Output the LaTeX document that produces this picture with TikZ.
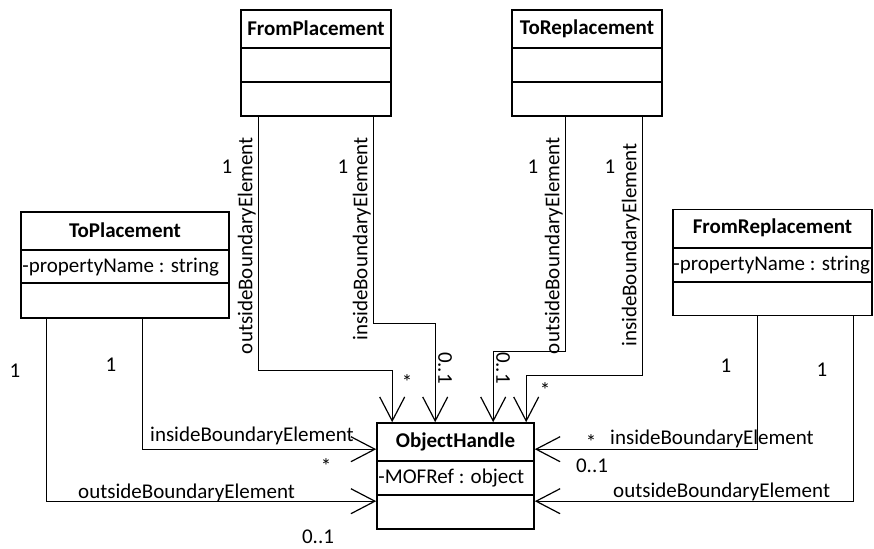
\documentclass[tikz,border=0pt]{standalone}
\usepackage{fontspec}
\setmainfont{Carlito}
\usetikzlibrary{arrows.meta}
\begin{document}
\begin{tikzpicture}[x=1pt,y=-1pt,
  font=\fontsize{21}{25}\selectfont,
  cls/.style={draw, line width=1.6pt, inner sep=0pt, minimum width=#1, minimum height=106pt},
  div/.style={line width=1.6pt},
  ttl/.style={inner sep=0pt, font=\fontsize{21}{25}\selectfont\bfseries},
  attr/.style={inner sep=0pt, anchor=west},
  assoc/.style={line width=1pt, -{Straight Barb[length=24pt,width=25pt,line width=1.2pt]}},
  lbl/.style={inner sep=0pt},
  vlbl/.style={inner sep=0pt, rotate=90, anchor=south east},
  mlt/.style={inner sep=0pt}]
\useasboundingbox (0,0) rectangle (874,548);

% FromPlacement
\node[cls=150pt] (fp) at (316,63) {};
\node[ttl] (fpt) at ([yshift=-19.5pt]fp.north) {FromPlacement};
\draw[div] ([yshift=-39pt]fp.north west) -- ([yshift=-39pt]fp.north east);
\draw[div] ([yshift=-73pt]fp.north west) -- ([yshift=-73pt]fp.north east);

% ToReplacement
\node[cls=150pt] (tr) at (587,63) {};
\node[ttl] (trt) at ([yshift=-19.5pt]tr.north) {ToReplacement};
\draw[div] ([yshift=-39pt]tr.north west) -- ([yshift=-39pt]tr.north east);
\draw[div] ([yshift=-73pt]tr.north west) -- ([yshift=-73pt]tr.north east);

% ToPlacement
\node[cls=208pt] (tp) at (125,265) {};
\node[ttl] (tpt) at ([yshift=-19.5pt]tp.north) {ToPlacement};
\draw[div] ([yshift=-39pt]tp.north west) -- ([yshift=-39pt]tp.north east);
\draw[div] ([yshift=-72pt]tp.north west) -- ([yshift=-72pt]tp.north east);
\node[attr] (tpa) at ([xshift=2pt,yshift=-55.5pt]tp.north west) {-propertyName : string};

% FromReplacement
\node[cls=199pt] (fr) at (772.5,262.5) {};
\node[ttl] (frt) at ([yshift=-19.5pt]fr.north) {FromReplacement};
\draw[div] ([yshift=-39pt]fr.north west) -- ([yshift=-39pt]fr.north east);
\draw[div] ([yshift=-73pt]fr.north west) -- ([yshift=-73pt]fr.north east);
\node[attr] (fra) at ([xshift=1pt,yshift=-56pt]fr.north west) {-propertyName : string};

% ObjectHandle
\node[cls=157pt] (oh) at (455.5,476) {};
\node[ttl] (oht) at ([yshift=-19.5pt]oh.north) {ObjectHandle};
\draw[div] ([yshift=-39pt]oh.north west) -- ([yshift=-39pt]oh.north east);
\draw[div] ([yshift=-73pt]oh.north west) -- ([yshift=-73pt]oh.north east);
\node[attr] (oha) at ([xshift=2pt,yshift=-56pt]oh.north west) {-MOFRef : object};

% connectors from top classes
\draw[assoc] ([xshift=18pt]fp.south west) -- ++(0,254) -| ([xshift=16pt]oh.north west);
\draw[assoc] ([xshift=133pt]fp.south west) -- ++(0,207) -| ([xshift=59pt]oh.north west);
\draw[assoc] ([xshift=54pt]tr.south west) -- ++(0,235) -| ([xshift=117pt]oh.north west);
\draw[assoc] ([xshift=131pt]tr.south west) -- ++(0,259) -| ([xshift=150pt]oh.north west);

% connectors from side classes
\draw[assoc] ([xshift=122pt]tp.south west) |- ([yshift=-27pt]oh.north west);
\draw[assoc] ([xshift=26pt]tp.south west) |- ([yshift=-79pt]oh.north west);
\draw[assoc] ([xshift=85pt]fr.south west) |- ([yshift=-27pt]oh.north east);
\draw[assoc] ([xshift=181pt]fr.south west) |- ([yshift=-79pt]oh.north east);

% vertical role labels
\node[vlbl] (l1) at (256,137) {outsideBoundaryElement};
\node[vlbl] (l2) at (371,137) {insideBoundaryElement};
\node[vlbl] (l3) at (563,137) {outsideBoundaryElement};
\node[vlbl] (l4) at (640,143) {insideBoundaryElement};
\node[mlt] (m1) at (227,167) {1};
\node[mlt] (m2) at (343,167) {1};
\node[mlt] (m3) at (533,167) {1};
\node[mlt] (m4) at (610,167) {1};
\node[mlt] (m5) at (407,382) {*};
\node[mlt,rotate=-90] (m6) at (445,368) {0..1};
\node[mlt,rotate=-90] (m7) at (503,368) {0..1};
\node[mlt] (m8) at (545,390) {*};

% horizontal role labels
\node[lbl,anchor=base west] (h1) at (150,441) {insideBoundaryElement};
\node[lbl,anchor=base west] (h2) at (78,498) {outsideBoundaryElement};
\node[lbl,anchor=base west] (h3) at (610,444) {insideBoundaryElement};
\node[lbl,anchor=base west] (h4) at (613,497) {outsideBoundaryElement};
\node[mlt] (m9) at (15,371) {1};
\node[mlt] (m10) at (111,365) {1};
\node[mlt] (m11) at (326,466) {*};
\node[mlt] (m12) at (318,537) {0..1};
\node[mlt] (m13) at (591,442) {*};
\node[mlt] (m14) at (592,466) {0..1};
\node[mlt] (m15) at (726,366) {1};
\node[mlt] (m16) at (822,370) {1};
\end{tikzpicture}
\end{document}
